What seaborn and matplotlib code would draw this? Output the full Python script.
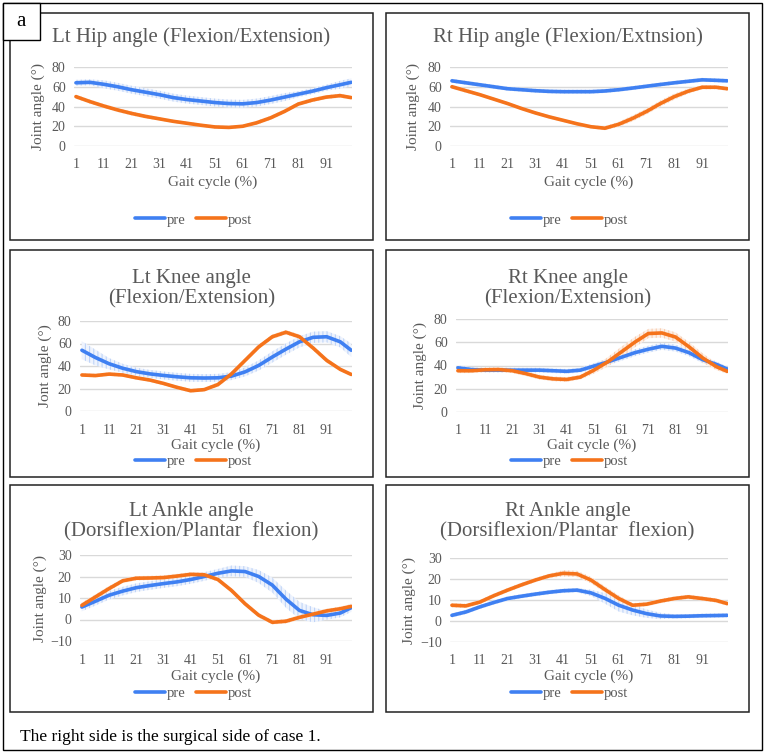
import numpy as np
import pandas as pd
import matplotlib
matplotlib.use("Agg")
import matplotlib.pyplot as plt
import seaborn as sns
from matplotlib.patches import Rectangle

sns.set_style("white")
plt.rcParams['font.family'] = ['Liberation Serif', 'DejaVu Serif']
plt.rcParams['hatch.linewidth'] = 0.8

# gait cycle sample points (%)
gait = [1, 6, 11, 16, 21, 26, 31, 36, 41, 46, 51, 56, 61, 66, 71, 76, 81, 86, 91, 96, 100]

# mean joint angles (deg)
lt_hip_pre = [64, 64.5, 62.5, 60, 57, 54.5, 52, 49, 47, 45.5, 44, 43, 42.7, 44, 46.5, 49.5, 52.5, 55.5, 59, 62, 64.5]
lt_hip_post = [50, 45, 40.5, 36.5, 33, 30, 27.5, 25, 23, 21, 19.3, 18.8, 20, 23.5, 28.5, 35, 42.5, 46.5, 49.5, 51, 49]
rt_hip_pre = [66, 64, 62, 60, 58, 57, 56, 55.3, 55, 55, 55, 55.7, 57, 58.7, 60.5, 62.3, 64, 65.5, 67, 66.5, 66]
rt_hip_post = [60, 56, 52, 47.5, 43, 38, 33.5, 29.5, 26, 22.5, 19.5, 18, 22, 28, 35, 43, 50, 55.5, 59.5, 59.5, 58]
lt_knee_pre = [54, 47.5, 42, 38, 35, 33, 31.6, 30.4, 29.5, 29.3, 29.5, 31, 34.8, 40.5, 48, 55, 61.5, 65.5, 66, 61.5, 54]
lt_knee_post = [32, 31.5, 32.8, 32, 29.5, 27.5, 24.5, 21, 18, 19, 23.5, 33, 45, 57, 66, 70, 66, 56, 45, 37, 32.5]
rt_knee_pre = [38, 36.5, 36, 36, 36, 36, 36, 35.5, 35, 36, 39.5, 43, 47, 51, 54, 56.5, 55, 51, 45, 41, 37]
rt_knee_post = [35.5, 35.5, 36.3, 36.5, 35.5, 33, 30, 28.5, 28, 30, 36, 43, 51.5, 60, 67.5, 68, 64.5, 56, 46.5, 39, 35]
lt_ankle_pre = [5.8, 8.5, 11.3, 13.2, 14.8, 15.8, 16.7, 17.5, 18.6, 20, 21.5, 22.6, 22.3, 20, 16, 9.5, 4.2, 2.2, 1.9, 3, 5.5]
lt_ankle_post = [6.6, 10.5, 14.4, 18, 19.2, 19.3, 19.5, 20.2, 21, 20.8, 18.6, 13.5, 7.3, 2, -1.3, -0.8, 1, 2.5, 4, 5, 6.1]
rt_ankle_pre = [2.7, 4.3, 6.7, 8.8, 10.7, 11.8, 12.8, 13.7, 14.4, 14.7, 13.4, 10.8, 7.5, 5.2, 3.5, 2.4, 2.2, 2.3, 2.5, 2.6, 2.7]
rt_ankle_post = [7.5, 7.2, 9, 12, 14.7, 17.2, 19.5, 21.5, 22.7, 22.4, 19.5, 15, 10.7, 7.5, 8, 9.5, 10.7, 11.5, 10.7, 9.8, 8.3]

# standard deviations (deg), estimated from the band widths
lt_hip_pre_sd = [3, 3, 4, 4, 4, 4, 4, 4, 4, 4, 4, 4, 4, 4, 4, 4, 3, 3, 3, 4, 4]
lt_hip_post_sd = [2, 2, 2, 2, 2, 2, 1.5, 1.5, 1.5, 1.5, 1.5, 1.5, 1.5, 2, 2, 2, 2, 2, 2, 2, 2]
rt_hip_pre_sd = [2, 2, 2, 2, 2, 2, 2, 2, 2, 2, 2, 2, 2, 2, 2, 2, 2, 2, 2, 2, 2]
rt_hip_post_sd = [2, 2, 1.5, 1.5, 1.5, 1.5, 1.5, 1.5, 1.5, 1.5, 1.5, 2, 2.5, 3, 3, 3, 3, 2.5, 2, 2, 2]
lt_knee_pre_sd = [8, 7, 5, 4, 3.5, 3.5, 3.5, 3.5, 3.5, 3.5, 3.5, 3.5, 4, 4.5, 5, 5, 5, 5, 5, 5, 6]
lt_knee_post_sd = [1.5, 1.5, 1.5, 1.5, 1.5, 1.5, 1.5, 1.5, 1.5, 1.5, 2, 2, 2, 2, 2, 2, 2, 2, 2, 1.5, 1.5]
rt_knee_pre_sd = [2, 2, 2, 2, 2, 2, 2, 2, 2, 2, 2.5, 3, 3, 3, 3, 3, 3, 3, 3, 2.5, 2]
rt_knee_post_sd = [2, 2, 2, 2, 2, 2, 2, 2, 2, 2, 3, 4, 4.5, 4.5, 4, 4, 4, 4, 4, 3, 2]
lt_ankle_pre_sd = [2, 2, 2, 2, 2, 2, 2, 2, 2, 2, 2, 2.5, 2.5, 3, 3.5, 4, 4, 3.5, 2, 2, 2]
lt_ankle_post_sd = [1.2, 1.2, 1.2, 1, 1, 1, 1, 1, 1, 1, 1, 1, 1, 1, 1, 1, 1, 1, 1, 1, 1]
rt_ankle_pre_sd = [1, 1, 1, 1, 1, 1, 1, 1, 1, 1, 1.5, 2.5, 3, 2.5, 2, 1.5, 1, 1, 1, 1, 1]
rt_ankle_post_sd = [1, 1, 1, 1, 1, 1, 1, 1, 1.5, 1.5, 1.5, 1.5, 1.5, 1, 1, 1, 1, 1, 1, 1, 1]

titles = ["Lt Hip angle (Flexion/Extension)", "Rt Hip angle (Flexion/Extnsion)",
          "Lt Knee angle\n(Flexion/Extension)", "Rt Knee angle\n(Flexion/Extension)",
          "Lt Ankle angle\n(Dorsiflexion/Plantar  flexion)", "Rt Ankle angle\n(Dorsiflexion/Plantar  flexion)"]
ylabels = ["Joint angle (°)", "Joint angle (°)", "Jont angle (°)",
           "Joint angle (°)", "Joint angle (°)", "Joint angle (°)"]
xtick_labels = [1, 11, 21, 31, 41, 51, 61, 71, 81, 91]

panels = [
    (lt_hip_pre, lt_hip_pre_sd, lt_hip_post, lt_hip_post_sd, [0, 20, 40, 60, 80]),
    (rt_hip_pre, rt_hip_pre_sd, rt_hip_post, rt_hip_post_sd, [0, 20, 40, 60, 80]),
    (lt_knee_pre, lt_knee_pre_sd, lt_knee_post, lt_knee_post_sd, [0, 20, 40, 60, 80]),
    (rt_knee_pre, rt_knee_pre_sd, rt_knee_post, rt_knee_post_sd, [0, 20, 40, 60, 80]),
    (lt_ankle_pre, lt_ankle_pre_sd, lt_ankle_post, lt_ankle_post_sd, [-10, 0, 10, 20, 30]),
    (rt_ankle_pre, rt_ankle_pre_sd, rt_ankle_post, rt_ankle_post_sd, [-10, 0, 10, 20, 30]),
]

# layout in pixels (left, right, top, bottom)
W, H = 765, 755
boxes = [(10, 373, 13, 240), (386, 749, 13, 240),
         (10, 373, 250, 477), (386, 749, 250, 477),
         (10, 373, 485, 712), (386, 749, 485, 712)]
plot_areas = [(74, 352, 67, 146), (450, 728, 67, 146),
              (80, 352, 321, 411), (456, 728, 319, 412),
              (80, 352, 555, 641), (450, 728, 558, 642)]
title_y = [37, 37, 289, 289, 522, 522]
xlabel_y = [182, 182, 445, 445, 676, 676]
legend_y = [220, 220, 461, 461, 693, 693]
ylabel_x = [38, 413, 45, 420, 40, 409]

pre_col = "#3F80F2"
post_col = "#F5731B"
pre_band = "#BFD4F7"
post_band = "#F8CDB0"
grey = "#595959"

fig = plt.figure(figsize=(W / 100, H / 100), dpi=100)

def fx(x):
    return x / W

def fy(y):
    return 1 - y / H

# outer frame and panel label box
fig.add_artist(Rectangle((fx(3), fy(750)), fx(759), (747) / H, transform=fig.transFigure,
                         fill=False, edgecolor="black", linewidth=1.0))
for (l, r, t, b) in boxes:
    fig.add_artist(Rectangle((fx(l), fy(b)), fx(r - l), (b - t) / H, transform=fig.transFigure,
                             fill=False, edgecolor="#222222", linewidth=1.1))
fig.add_artist(Rectangle((fx(3), fy(40)), fx(37), 37 / H, transform=fig.transFigure,
                         facecolor="white", edgecolor="black", linewidth=1.0, zorder=5))
fig.text(fx(21), fy(21), "a", ha="center", va="center", fontsize=15, color="black", zorder=6)

for i, (pre, pre_sd, post, post_sd, yticks) in enumerate(panels):
    l, r, t, b = plot_areas[i]
    ax = fig.add_axes([fx(l), fy(b), fx(r - l), (b - t) / H])
    df = pd.DataFrame({"gait": gait * 2, "angle": pre + post,
                       "cond": ["pre"] * len(gait) + ["post"] * len(gait)})
    pre_a, pre_s = np.array(pre), np.array(pre_sd)
    post_a, post_s = np.array(post), np.array(post_sd)
    ax.fill_between(gait, pre_a - pre_s, pre_a + pre_s, facecolor="#EEF3FD",
                    edgecolor=pre_band, hatch="||||", linewidth=0, zorder=1)
    ax.fill_between(gait, post_a - post_s, post_a + post_s, facecolor="#FDEFE6",
                    edgecolor=post_band, hatch="||||", linewidth=0, zorder=1)
    sns.lineplot(data=df, x="gait", y="angle", hue="cond", hue_order=["pre", "post"],
                 palette=[pre_col, post_col], linewidth=2.6, ax=ax, zorder=3)
    ax.set_xlim(0.3, 100.3)
    ax.set_ylim(yticks[0], yticks[-1])
    ax.set_yticks(yticks)
    ax.set_xticks(xtick_labels)
    ax.yaxis.grid(True, color="#D9D9D9", linewidth=1.0)
    ax.set_axisbelow(True)
    for s in ax.spines.values():
        s.set_visible(False)
    ax.tick_params(axis="both", length=0, labelsize=10, labelcolor=grey, pad=6)
    ax.tick_params(axis="x", pad=9)
    ax.set_xlabel("")
    ax.set_ylabel("")
    ax.legend_.remove()

    bl, br, bt, bb = boxes[i]
    cx = (bl + br) / 2
    fig.text(fx(cx), fy(title_y[i]), titles[i], ha="center", va="center",
             fontsize=15, color=grey, linespacing=1.1)
    fig.text(fx((l + r) / 2), fy(xlabel_y[i]), "Gait cycle (%)", ha="center", va="center",
             fontsize=11, color=grey)
    fig.text(fx(ylabel_x[i]), fy((t + b) / 2), ylabels[i], ha="center", va="center",
             rotation=90, fontsize=11, color=grey)
    handles = ax.get_lines()[:2]
    leg = ax.legend(handles, ["pre", "post"], loc="center", ncol=2, frameon=False,
                    bbox_to_anchor=(fx(cx + 2), fy(legend_y[i])), bbox_transform=fig.transFigure,
                    handlelength=2.1, handletextpad=0.1, columnspacing=0.7, fontsize=10.5)
    for txt in leg.get_texts():
        txt.set_color(grey)

fig.text(fx(20), fy(737), "The right side is the surgical side of case 1.", ha="left",
         va="center", fontsize=12.5, color="black")

fig.savefig("out.png", dpi=100)
